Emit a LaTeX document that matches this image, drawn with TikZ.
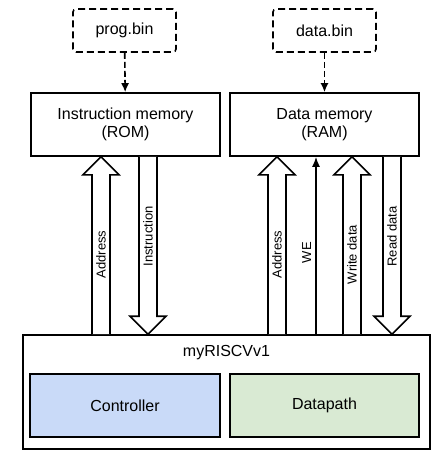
\documentclass[tikz,border=0pt]{standalone}
\usepackage{fontspec}
\setmainfont{Liberation Sans}
\usepackage{xcolor}
\usepackage{tikz}
\usetikzlibrary{calc,arrows.meta}
\definecolor{ink}{HTML}{000000}
\definecolor{ctrlfill}{HTML}{C9DAF8}
\definecolor{dpfill}{HTML}{D9EAD3}
\tikzset{
  box/.style={draw=ink, line width=1.6pt, fill=white, inner sep=0pt},
  filebox/.style={draw=ink, line width=1.6pt, dash pattern=on 7pt off 4pt, rounded corners=3pt, inner sep=0pt},
  load/.style={draw=ink, line width=1.6pt, dash pattern=on 6pt off 3pt, -{Latex[length=9pt,width=8pt]}},
  fat/.style={draw=ink, line width=1.6pt, line join=miter, fill=white},
  wire/.style={draw=ink, line width=1.6pt, -{Latex[length=10pt,width=8pt]}},
  lab/.style={text=ink, font=\fontsize{16}{18}\selectfont, align=center},
  labs/.style={text=ink, font=\fontsize{13}{15}\selectfont, inner sep=1pt},
}

\begin{document}
\begin{tikzpicture}[x=1pt, y=-1pt]
  \useasboundingbox (0,0) rectangle (441,461);
  \def\sw{9}
  \def\hw{18}
  \def\hl{18}

  % files
  \node[filebox, lab, minimum width=103, minimum height=43] (prog) at (124.5,30.5) {prog.bin};
  \node[filebox, lab, minimum width=103, minimum height=43] (dbin) at (324.5,30.5) {data.bin};

  % memories
  \node[box, lab, minimum width=189, minimum height=63] (rom) at (125.5,124.5) {Instruction memory\\(ROM)};
  \node[box, lab, minimum width=189, minimum height=63] (ram) at (324.5,124.5) {Data memory\\(RAM)};

  % processor
  \node[box, minimum width=407, minimum height=114] (cpu) at (226.5,392) {};
  \node[lab] (cpuname) at (226.5,353) {myRISCVv1};
  \node[box, lab, fill=ctrlfill, minimum width=190, minimum height=63] (ctrl) at (125,405.5) {Controller};
  \node[box, lab, fill=dpfill, minimum width=189, minimum height=63] (dp) at (324.5,405.5) {Datapath};

  \draw[load] (prog) -- (rom);
  \draw[load] (dbin) -- (ram);

  % buses up
  \foreach \nd/\dx/\txt [count=\i] in {rom/-24.5/Address, ram/-47.5/Address, ram/27.5/Write data} {
    \coordinate (up\i) at ($(\nd.south)+(\dx,0)$);
    \coordinate (upb\i) at (up\i |- cpu.north);
    \draw[fat] ($(upb\i)+(-\sw,0)$) -- ($(up\i)+(-\sw,\hl)$) -- ($(up\i)+(-\hw,\hl)$) -- (up\i)
      -- ($(up\i)+(\hw,\hl)$) -- ($(up\i)+(\sw,\hl)$) -- ($(upb\i)+(\sw,0)$);
    \node[labs, rotate=90] (uplab\i) at ($(up\i)!0.5!(upb\i)+(0,\hl/2)$) {\txt};
  }

  % buses down
  \foreach \nd/\dx/\txt [count=\i] in {rom/22.5/Instruction, ram/67.5/Read data} {
    \coordinate (dn\i) at ($(\nd.south)+(\dx,0)$);
    \coordinate (dnb\i) at (dn\i |- cpu.north);
    \draw[fat] ($(dn\i)+(-\sw,0)$) -- ($(dnb\i)+(-\sw,-\hl)$) -- ($(dnb\i)+(-\hw,-\hl)$) -- (dnb\i)
      -- ($(dnb\i)+(\hw,-\hl)$) -- ($(dnb\i)+(\sw,-\hl)$) -- ($(dn\i)+(\sw,0)$);
    \node[labs, rotate=90] (dnlab\i) at ($(dn\i)!0.5!(dnb\i)+(0,-\hl/2)$) {\txt};
  }

  % write enable
  \coordinate (we) at ($(ram.south)+(-8.5,0)$);
  \draw[wire] (we |- cpu.north) -- (we) node[labs, pos=0.46, above=3pt, sloped] (welab) {WE};
\end{tikzpicture}
\end{document}
